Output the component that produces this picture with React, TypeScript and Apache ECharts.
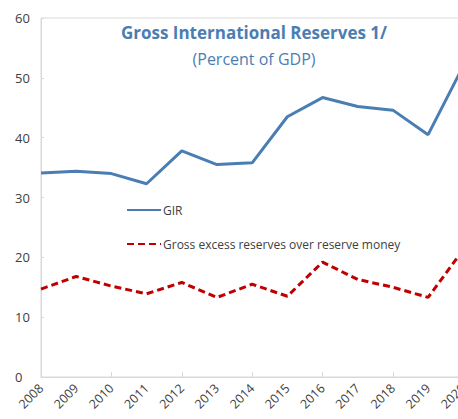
import React, { useEffect, useRef } from "react";
import * as echarts from "echarts";

const years = ["2008", "2009", "2010", "2011", "2012", "2013", "2014", "2015", "2016", "2017", "2018", "2019", "2020"];
const gir = [34.1, 34.4, 34.0, 32.3, 37.8, 35.5, 35.8, 43.5, 46.7, 45.2, 44.6, 40.5, 52.0];
const excess = [14.7, 16.8, 15.2, 13.9, 15.8, 13.3, 15.5, 13.5, 19.2, 16.3, 15.0, 13.3, 21.3];
const titleText = "Gross International Reserves 1/";
const subtitleText = "(Percent of GDP)";
const girName = "GIR";
const excessName = "Gross excess reserves over reserve money";

const FONT = "'Open Sans', 'Noto Sans', sans-serif";

export default function App() {
  const ref = useRef<HTMLDivElement>(null);
  useEffect(() => {
    if (!ref.current) return;
    const chart = echarts.init(ref.current, null, { renderer: "svg" });
    chart.setOption({
      animation: false,
      backgroundColor: "#ffffff",
      textStyle: { fontFamily: FONT },
      title: [
        {
          text: titleText,
          left: 249,
          top: 19,
          textAlign: "center",
          textStyle: { fontFamily: FONT, fontSize: 17, fontWeight: "bold", color: "#4a7eb3" },
        },
        {
          text: subtitleText,
          left: 249,
          top: 46,
          textAlign: "center",
          textStyle: { fontFamily: FONT, fontSize: 16, fontWeight: "normal", color: "#4a7eb3" },
        },
      ],
      legend: {
        orient: "vertical",
        left: 121,
        top: 199,
        itemWidth: 34,
        itemHeight: 14,
        itemGap: 22,
        itemStyle: { color: "transparent", borderWidth: 0, opacity: 0 },
        textStyle: { fontFamily: FONT, fontSize: 12, color: "#404040", padding: [0, 0, 0, -3] },
        data: [girName, excessName],
      },
      grid: {
        left: 41,
        top: 18,
        bottom: 42,
        right: 3,
        show: true,
        borderColor: "#d9d9d9",
        borderWidth: 1,
      },
      xAxis: {
        type: "category",
        data: years,
        boundaryGap: false,
        axisLine: { show: true, lineStyle: { color: "#d9d9d9" } },
        axisTick: { show: true, inside: true, length: 5, interval: 1, lineStyle: { color: "#d9d9d9" } },
        axisLabel: {
          interval: 0,
          rotate: 45,
          fontFamily: FONT,
          fontSize: 12.5,
          color: "#404040",
          margin: 9,
        },
      },
      yAxis: {
        type: "value",
        min: 0,
        max: 60,
        interval: 10,
        splitLine: { show: false },
        axisLine: { show: true, lineStyle: { color: "#d9d9d9" } },
        axisTick: { show: true, inside: true, length: 3, lineStyle: { color: "#d9d9d9" } },
        axisLabel: {
          align: "left",
          margin: 26,
          fontFamily: FONT,
          fontSize: 13,
          color: "#404040",
        },
      },
      series: [
        {
          name: girName,
          type: "line",
          data: gir,
          symbol: "none",
          lineStyle: { color: "#4a7eb3", width: 3 },
          itemStyle: { color: "#4a7eb3" },
        },
        {
          name: excessName,
          type: "line",
          data: excess,
          symbol: "none",
          lineStyle: { color: "#c00000", width: 3, type: [7, 4] },
          itemStyle: { color: "#c00000" },
        },
      ],
    });
    return () => chart.dispose();
  }, []);
  return (
    <div style={{ width: 458, height: 419, position: "absolute", left: 0, top: 0, overflow: "hidden" }}>
      <div ref={ref} style={{ width: 470, height: 419 }} />
    </div>
  );
}
